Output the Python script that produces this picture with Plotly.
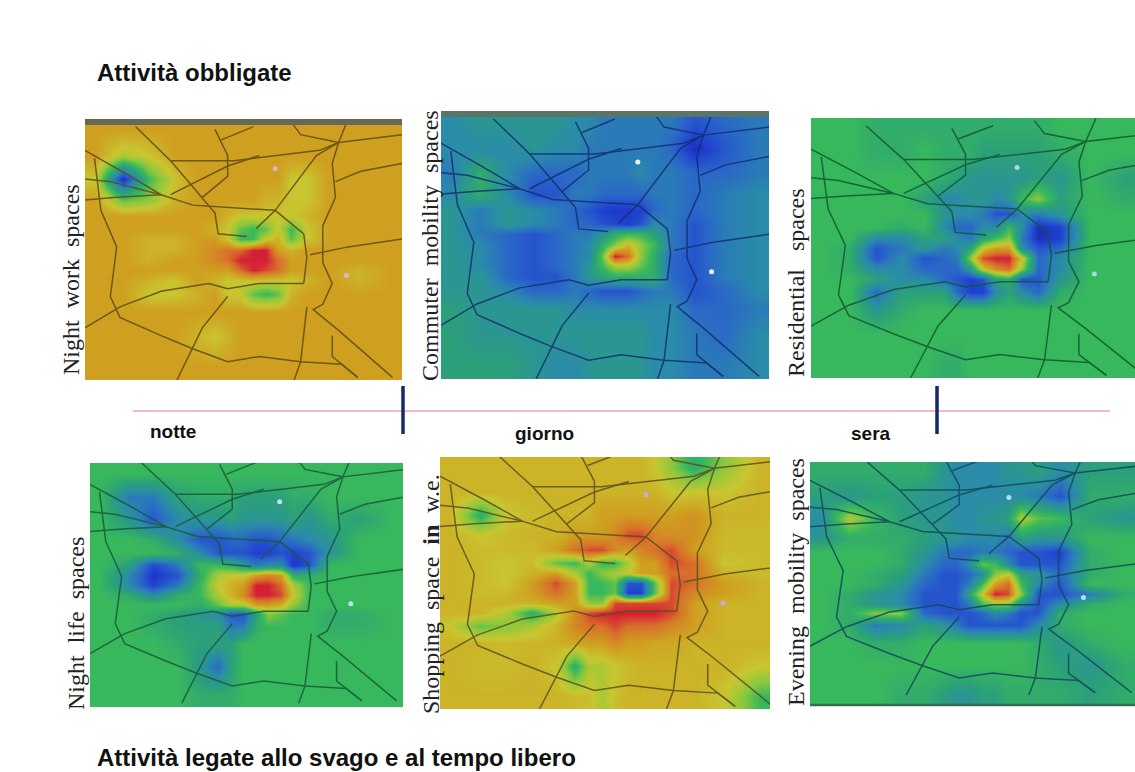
import plotly.graph_objects as go

W, H = 1135, 772

GRID_X = [3, 12, 20, 28, 35, 41, 45, 49, 53, 57, 61, 65, 70, 77, 86, 97]
GRID_Y = [4, 14, 23, 31, 37, 42, 46, 50, 54, 58, 62, 67, 74, 83, 95]

NIGHT_WORK = [
 [8,8,8,8,8,8,8,8,8,8,8,8,8,8,8,8],
 [8,6.5,7,8,8,8,8,8,8,8,8,8,8,8,8,8],
 [7,0.5,5,7,8,8,8,8,8,8,8,7,7,8,8,8],
 [8,5.5,6,7.5,8,8,8,8,8,7.5,7.5,7,7,8,8,8],
 [8,8,8,8,8,8,7.5,7,7,7,7,7,7.5,8,8,8],
 [8,8,8,8,8,7.5,7,5.5,5,5.5,7,5,7,8,8,8],
 [8,8,7.5,7.5,8,8,7,5,5,7,7.5,5.5,7,8,8,8],
 [8,8,7.5,7.5,8,8.5,9,9,10,10,8,7.5,8,8,8,8],
 [8,8,7.5,8,8,8.5,9,10,10,10,9,8,8,8,8,8],
 [8,8,8,8,8,8,8,9,10,9.5,9,8,8,8,7.5,8],
 [8,8,7.5,7,8,7.5,7,7,7,7,7,7,7.5,8,7.5,8],
 [8,8,7,7,7.5,8,7,7,5.5,5,5.5,7.5,8,8,8,8],
 [8,8,8,8,8,8,8,8,8,8,8,8,8,8,8,8],
 [8,8,8,8,7.5,7,7.5,8,8,8,8,8,8,8,8,8],
 [8,8,8,8,8,8,8,8,8,8,8,8,8,8,8,8],
]
COMMUTER = [
 [3,3.5,3.5,3.5,3.5,3,3,2.5,2.5,2.5,2.5,2.5,2.5,1.5,2,2.5],
 [3,3,3,3.5,3,3,2.5,2.5,2.5,2.5,2.5,2.5,2,0.5,1.5,2.5],
 [2.5,4.5,3,2,2,2,2.5,2.5,2.5,2.5,3,2.5,2.5,2,2,2.5],
 [3,4.5,3,1.5,1.5,2.5,2.5,2,2,2,2,2.5,2.5,2,2.5,3],
 [3.5,2.5,3.5,3,2.5,2,1.5,1,0.8,0.8,1,2,2.5,2,2.5,3],
 [3.5,2.5,3.5,3,2.5,2,2,1.5,1.2,1,1.5,3,2.5,1.5,2.5,3],
 [3.5,2.5,2,1.5,2,2.5,2.5,3.5,4.5,5,5,4,2.5,1.5,2.5,3],
 [3.5,3,2,1.5,2,2.5,3,4.5,6,7.5,6,5,2.5,1.5,2.5,3],
 [3.5,3,2,1.5,2,2.5,3,5.5,10,9,6,4.5,2,1.5,2.5,3],
 [3.5,3,2,1.5,2,2.5,3.5,5,6.5,6.5,5.5,4.5,2,1.5,2.5,3],
 [3.5,3.5,2,1.5,1.5,2.5,3.5,4,4.5,4.5,4.5,4.5,2,1.5,2.5,3],
 [3.5,3.5,3,2,2,2.5,2,1.5,1.5,1.5,2,2.5,2.5,1.5,2,3],
 [4,3.5,3.5,3.5,3.5,3,3,3,3,3,3,3,3,2,2,2.5],
 [4,3.5,3.5,3.5,3.5,3.5,3.5,3.5,3.5,3.5,3.5,3,3,2.5,2,3],
 [4,4,4,3.5,3,3,3.5,3.5,3.5,3.5,3.5,3,3,2.5,2.5,3],
]
RESIDENTIAL = [
 [5,5,4.5,4.5,4.5,4.5,4.5,4.5,4.5,4.5,4.5,4.5,4.5,5,5,5],
 [5,5,4.5,4.5,5,4.5,4.5,4.5,4,4,4,4,4,4.5,5,5],
 [5,5,5,5,5,4.5,4,3.5,3.5,3.5,3.5,3.5,4,3.5,5,4],
 [5,5,5,5,4,3,3,3.5,3.5,3,3.5,5,6,4,5,4.5],
 [5,5,5,5,5,3.5,3,3,2.5,1.5,1.5,3,2.5,3.5,5,5],
 [5,5,5,4.5,5,3,2,2,3,3,5,3,0.5,1,5,5],
 [5,5,3,3,4,4,3,2.5,4,5,6,2.5,0.5,1,5,5],
 [5,4.5,1.5,2.5,3.5,2.5,3,4,7,8,8,3,1.5,2,5,5],
 [5,4.5,1.5,3,1.5,2,2.5,6,9.5,10,10,7,2,3,5,5],
 [5,4.5,3,3,2,2,2,3.5,7,8.5,9,6,2,3,5,5],
 [5,5,4,3,3,2,1.5,1,1.5,4,4.5,1.5,1.5,3.5,5,5],
 [5,5,2,4,4,4,2,1,1,3,4,3,2,4.5,5,5],
 [5,5,3.5,4.5,5,5,5,5,5,5,5,5,5,5,5,5],
 [5,5,5,5,5,5,5,5,5,5,5,5,5,5,5,5],
 [5,5,5,5,5,4.5,4.5,5,5,5,5,5,5,5,5,5],
]
NIGHT_LIFE = [
 [5,5,5,5,5,5,5,5,5,5,5,5,5,5,5,5],
 [5,2.5,2.5,4,4.5,4.5,4.5,4,4,4,4,4.5,4.5,5,5,5],
 [5,3.5,1.5,3,3.5,3.5,4,3.5,3.5,3.5,3.5,4,3.5,4.5,4,5],
 [5,5,4.5,3,1.5,1.5,2,2,1.5,1.5,2,2.5,3,3.5,5,5],
 [5,5,5,4.5,3,1.5,1.5,1.5,1,1,1.5,1,1.5,3.5,5,5],
 [5,4,1.2,2.5,5,5,4.5,3.5,2.5,3,3,0.7,1.5,5,5,5],
 [5,3,0.7,1.5,4.5,6.5,7,7,8,8.5,8,4.5,4.5,5,5,5],
 [5,3,1,2.5,5,7,7.5,8,10,10,9,6.5,5,5,5,5],
 [5,4.5,3,4.5,5,6.5,7.5,8.5,10,10,9.5,7,5,5,5,5],
 [5,5,5,5,4.5,5.5,6.5,6.5,8,8,7.5,6,5,5,5,5],
 [5,5,4.5,4,3.5,3,1.5,1.5,4,6,5.5,5,5,4.5,4.5,5],
 [5,5,4.5,4,4,4,2.5,2.5,4.5,5,5,5,5,4.5,4.5,5],
 [5,5,5,4.5,4,4,4,5,5,5,5,5,5,5,5,5],
 [5,5,5,5,3.5,2,4,5,5,5,5,5,5,5,5,5],
 [5,5,5,5,4.5,4.5,4.5,5,5,5,5,5,5,5,5,5],
]
SHOPPING = [
 [7.5,7.5,7.5,7.5,7.5,7.5,7.5,7.5,7.5,7.5,7.5,7,6,4.5,6,7.5],
 [7.5,7.5,7.5,7.5,7.5,7.5,7.5,7.5,7.5,7.5,7.5,7.5,7,7,7,7.5],
 [7.5,4.5,7,7.3,7.5,7.5,7.5,8,8,8,8,8,8,8.3,7.5,7.5],
 [7.5,7,7.3,7.5,7.5,8,8,8,8.5,9.5,9.5,8.5,8.3,8.3,7.3,7.3],
 [7.5,7.3,7.3,7.3,8,9,9.5,9.5,8.5,8,8.5,9,9.5,8,7.3,7.3],
 [7.5,7.3,7,7.3,5.5,5,6.5,5,5,6.5,8,8,9.5,9,7,7.3],
 [7.5,7.3,7,7.5,8,6.5,5,6,6.5,7,8,8,9,9,7.5,7.3],
 [7.5,7.3,7,8,9.5,8,5,5,5.5,1.5,1.5,5.5,9.5,9,8,7.5],
 [7.5,7.3,7.3,8,9,8,5,5,5.5,1,1,5.5,9.5,8.5,8,7.5],
 [7.5,7.5,7.5,7.5,8,8,6,6,9.5,9.5,9.5,9.5,9.5,8,7.5,7.5],
 [7.5,7.5,6.5,4.5,6.5,8.5,9.5,10,10,10,10,10,9.5,8,7.5,7.5],
 [7,5.5,6,6.5,7.5,8.5,9,9,9.5,9,9,9,8.5,8,7.5,7.5],
 [7.5,7.5,7.3,7.5,7.5,7.8,8,8,8.5,8,8,7.8,7.8,7.5,7.5,7.5],
 [7.5,7.3,7.3,7.5,7,4.5,6.5,6.5,7,7.3,7.5,7.5,7.5,7.5,7.5,7],
 [7.5,7.5,7.5,7.5,7.5,7.3,7.2,6.5,7.2,7.5,7.5,7.5,7.5,7.5,7,5],
]
EVENING = [
 [4.5,4.5,4.5,4.5,4.5,3.5,3,3,3,3,3.5,3.5,4,3,4,4],
 [4,3.5,4,4,3.5,3.5,3,3,3,3,3,3,2.5,1.5,4.5,4.5],
 [3,6.5,5,4,3.5,3.5,3,3,3.5,3.5,4,6.5,5.5,5,4,3.5],
 [3.5,4.5,4.5,4.5,4,3.5,3.5,3,3,3,2.5,4,3.5,3.5,5,5],
 [5,5,5,4.5,3.5,2.5,2,2,2.5,2.5,2,1.5,1.5,1,4.5,5],
 [5,5,5,4.5,3,2,2,3,5.5,5,3,1.5,1.5,1.5,4.5,5],
 [5,5,4.5,4,2.5,1.5,1.5,2,3,6,7,4,3.5,2,4.5,5],
 [5,5,4.5,3.5,2,1.5,1.5,2.5,5,8,9,5,3,1.5,5,5],
 [5,4.5,3.5,3,1.5,1.5,1.5,4,7,10,9.5,6,1.5,1.5,2.5,4.5],
 [5,4.5,3.5,3,1.5,1.5,1.5,2.5,5,6,6,3,1.5,3,4.5,5],
 [5,4.5,6,6,2,1.5,1.5,1.5,2,3,2.5,1.5,1.5,4.5,5,5],
 [5,4.5,2.5,3,4,3.5,2.5,1.5,1.5,1.5,1.5,1.5,3,4.5,5,5],
 [5,5,4.5,4.5,5,5,5,5,5,5,5,5,4.5,3.5,4.5,5],
 [5,5,5,5,5,5,5,5,5,5,5,5,4.5,4,3.5,4.5],
 [5,5,5,4.5,4.5,4,3.5,3.5,4,4,4.5,4.5,4.5,4.5,4,4.5],
]

ROAD_X = [
 [0,13,24,34,60,62,69,70,69],
 [69,55,45,39,24,11,0],
 [3,5,10,8,11,24,34,45,55,68,81,86],
 [80,78,79,75,75,78,75,72,80,97],
 [83,80,73,60,54],
 [27,47,74,80,100],
 [27,45,55],
 [16,27,34,41,42,51],
 [41,45,45,37],
 [100,87,79],
 [100,83,71],
 [45,37,29],
 [70,68,66],
 [0,8,24],
 [0,10,24],
 [65,68,80],
 [53,43],
 [78,78,86],
]
ROAD_Y = [
 [12,21,29,33,35,37,44,53,63],
 [63,63,65,63,66,72,80],
 [15,35,49,68,76,83,88,93,91,93,94,99],
 [9,17,30,41,55,63,71,73,81,99],
 [0,9,14,35,42],
 [16,16,12,9,6],
 [29,18,14],
 [3,16,26,36,44,45],
 [4,14,22,30],
 [17,20,24],
 [46,49,52],
 [68,80,100],
 [72,93,100],
 [23,24,29],
 [31,30,29],
 [1,6,9],
 [3,8],
 [83,91,99],
]
SPOT_X = [60, 82.5]
SPOT_Y = [19, 60]

N = "\u00a0"
PANEL_NAMES = ["Night" + N + " work" + N + " spaces", "Commuter" + N + " mobility" + N + " spaces",
               "Residential" + N * 3 + "spaces", "Night" + N + " life" + N + " spaces",
               "Shopping" + N + " space" + N + " <b>in</b>" + N + " w.e.", "Evening" + N + " mobility" + N + " spaces"]
PANEL_DATA = [NIGHT_WORK, COMMUTER, RESIDENTIAL, NIGHT_LIFE, SHOPPING, EVENING]
PANEL_BOX = [(85,402,119,380),(441,769,111,379),(811,1135,118,378),
             (90,403,463,707),(440,770,457,709),(810,1135,462,706)]
# how each photo crops the shared base map: x scale, y scale, y shift
PANEL_MAP = [(1,1,0),(1,1,0),(1.06,1,0),(1.01,1.02,-3.5),(1.04,1.05,-5),(1.02,1,-4.5)]
LABEL_POS = [(71,280,24),(430,246,24),(796,283,24),(76,624,24),(431,594,24),(796,582,24)]
ROAD_COL = ["#5e4a14","#123070","#0f5a30","#1a5a3a","#5a5020","#134a5a"]
SPOT_COL = ["#d8b8c8","#e8f4ff","#a8d8e8","#c0e0f0","#c8a8e0","#b0e0f0"]

SCALE = [[0,"#1e1a9e"],[.1,"#2040d0"],[.2,"#2a68c8"],[.3,"#2a8ca8"],[.4,"#2ba07a"],[.5,"#38b85c"],
         [.6,"#8cc83c"],[.7,"#c8c630"],[.8,"#cf9f20"],[.9,"#d8702a"],[1,"#d42035"]]

fig = go.Figure()
layout = {}
def fx(p): return p / W
def fy(p): return 1 - p / H

for i, (z, box, m) in enumerate(zip(PANEL_DATA, PANEL_BOX, PANEL_MAP)):
    s = "" if i == 0 else str(i + 1)
    layout["xaxis" + s] = dict(domain=[fx(box[0]), fx(box[1])], range=[0, 100], visible=False, fixedrange=True, anchor="y" + s)
    layout["yaxis" + s] = dict(domain=[fy(box[3]), fy(box[2])], range=[100, 0], visible=False, fixedrange=True, anchor="x" + s)
    fig.add_trace(go.Heatmap(x=GRID_X, y=GRID_Y, z=z, zmin=0, zmax=10, zsmooth="best", colorscale=SCALE,
                             showscale=False, hoverinfo="skip", xaxis="x" + s, yaxis="y" + s))
    rx, ry = [], []
    for a, b in zip(ROAD_X, ROAD_Y):
        rx += [v * m[0] for v in a] + [None]
        ry += [v * m[1] + m[2] for v in b] + [None]
    fig.add_trace(go.Scatter(x=rx, y=ry, mode="lines", line=dict(color=ROAD_COL[i], width=1.5), opacity=.85,
                             hoverinfo="skip", showlegend=False, xaxis="x" + s, yaxis="y" + s))
    fig.add_trace(go.Scatter(x=[v * m[0] for v in SPOT_X], y=[v * m[1] + m[2] for v in SPOT_Y], mode="markers",
                             marker=dict(color=SPOT_COL[i], size=5),
                             hoverinfo="skip", showlegend=False, xaxis="x" + s, yaxis="y" + s))

shapes = [
    dict(type="line", xref="paper", yref="paper", x0=fx(133), x1=fx(1110), y0=fy(411), y1=fy(411), line=dict(color="#f0a4b4", width=1.5)),
    dict(type="line", xref="paper", yref="paper", x0=fx(403), x1=fx(403), y0=fy(386), y1=fy(434), line=dict(color="#14286e", width=3.5)),
    dict(type="line", xref="paper", yref="paper", x0=fx(937), x1=fx(937), y0=fy(386), y1=fy(434), line=dict(color="#14286e", width=3.5)),
    dict(type="line", xref="paper", yref="paper", x0=fx(85), x1=fx(402), y0=fy(122), y1=fy(122), line=dict(color="#686858", width=6)),
    dict(type="line", xref="paper", yref="paper", x0=fx(441), x1=fx(769), y0=fy(114), y1=fy(114), line=dict(color="#5a7468", width=6)),
    dict(type="line", xref="paper", yref="paper", x0=fx(810), x1=fx(1135), y0=fy(705), y1=fy(705), line=dict(color="#3a6a50", width=2.5)),
]

def label(x, y, text, size, family="Liberation Sans", angle=0, anchor="left", color="#111111"):
    return dict(xref="paper", yref="paper", x=fx(x), y=fy(y), text=text, showarrow=False, textangle=angle,
                xanchor=anchor, yanchor="middle", font=dict(family=family, size=size, color=color))

notes = [
    label(95, 72, "<b>Attività obbligate</b>", 24),
    label(95, 757, "<b>Attività legate allo svago e al tempo libero</b>", 24),
    label(148, 431, "<b>notte</b>", 19),
    label(513, 433, "<b>giorno</b>", 19),
    label(849, 433, "<b>sera</b>", 19),
]
for name, (x, y, size) in zip(PANEL_NAMES, LABEL_POS):
    notes.append(label(x, y, name, size, family="Liberation Serif", angle=-90, anchor="center", color="#222222"))

fig.update_layout(width=W, height=H, margin=dict(l=0, r=0, t=0, b=0), paper_bgcolor="white", plot_bgcolor="white",
                  showlegend=False, shapes=shapes, annotations=notes, **layout)
fig.write_html("out.html", config={"displayModeBar": False},
               post_script="document.body.style.margin='0';")
